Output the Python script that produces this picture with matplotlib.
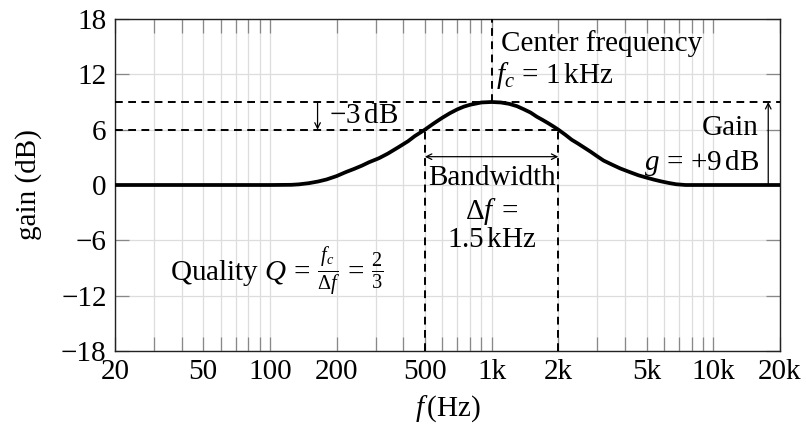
import matplotlib
matplotlib.use("Agg")
import matplotlib.pyplot as plt
from matplotlib.ticker import FixedLocator, NullFormatter

plt.rcParams["font.family"] = ["Liberation Serif", "DejaVu Serif"]
plt.rcParams["mathtext.fontset"] = "custom"
plt.rcParams["mathtext.rm"] = "Liberation Serif"
plt.rcParams["mathtext.it"] = "Liberation Serif:italic"
plt.rcParams["mathtext.bf"] = "Liberation Serif:bold"

# Peaking EQ response: frequency (Hz) and gain (dB)
freq_hz = [20, 100, 125, 135, 150, 165, 180, 200, 220, 240, 260, 280, 310, 340,
           380, 420, 450, 500, 550, 600, 650, 700, 750, 800, 900, 1000, 1100,
           1200, 1300, 1400, 1500, 1600, 1700, 1800, 1900, 2000, 2150, 2300,
           2450, 2600, 2800, 3000, 3200, 3500, 3800, 4200, 4600, 5000, 5400,
           5800, 6300, 6800, 7500, 20000]
gain_db = [0, 0, 0.02, 0.07, 0.2, 0.38, 0.6, 0.97, 1.4, 1.75, 2.1, 2.47, 2.9, 3.4,
           4.1, 4.75, 5.3, 6.0, 6.7, 7.3, 7.8, 8.2, 8.5, 8.7, 8.95, 9.0, 8.95,
           8.8, 8.55, 8.2, 7.85, 7.4, 7.05, 6.7, 6.35, 6.0, 5.45, 4.9,
           4.5, 4.1, 3.6, 3.1, 2.65, 2.2, 1.8, 1.4, 1.05, 0.8, 0.58,
           0.4, 0.22, 0.08, 0, 0]

# Key parameters of the filter
center_hz = 1000
band_lo_hz = 500
band_hi_hz = 2000
peak_db = 9
half_db = 6

# Axis ticks
x_label_ticks = [20, 50, 100, 200, 500, 1000, 2000, 5000, 10000, 20000]
x_tick_labels = ["20", "50", "100", "200", "500", "1k", "2k", "5k", "10k", "20k"]
y_ticks = [-18, -12, -6, 0, 6, 12, 18]

FS = 21

fig = plt.figure(figsize=(8.06, 4.29), dpi=100)
ax = fig.add_axes([115 / 806, 1 - 351 / 429, 665 / 806, 332 / 429])

ax.set_xscale("log")
ax.set_xlim(20, 20000)
ax.set_ylim(-18, 18)

# log grid positions
minor_pos = [m * 10 ** e for e in range(1, 5) for m in range(1, 10)
             if 20 <= m * 10 ** e <= 20000 and m * 10 ** e not in x_label_ticks]
ax.xaxis.set_major_locator(FixedLocator(x_label_ticks))
ax.xaxis.set_minor_locator(FixedLocator(minor_pos))
ax.set_xticklabels(x_tick_labels)
ax.xaxis.set_minor_formatter(NullFormatter())
ax.set_yticks(y_ticks)
ax.set_yticklabels([("\u2212" + str(-v)) if v < 0 else str(v) for v in y_ticks])

grid_kw = dict(color="#dddddd", linewidth=0.9)
ax.grid(True, which="both", axis="x", **grid_kw)
ax.grid(True, which="major", axis="y", **grid_kw)
ax.set_axisbelow(True)

for which in ("major", "minor"):
    ax.tick_params(axis="both", which=which, direction="in", length=10,
                   width=0.9, color="#888888", top=True, right=True,
                   labelsize=FS)
ax.tick_params(axis="x", which="major", pad=6)
ax.tick_params(axis="y", which="major", pad=6)
for s in ax.spines.values():
    s.set_linewidth(1.0)
    s.set_color("#222222")

dash = (0, (4.0, 2.8))
dkw = dict(color="black", linewidth=1.4, linestyle=dash, zorder=3)
ax.plot([20, 20000], [peak_db, peak_db], **dkw)
ax.plot([20, band_hi_hz], [half_db, half_db], **dkw)
ax.plot([center_hz, center_hz], [peak_db, 18], **dkw)
ax.plot([band_lo_hz, band_lo_hz], [-18, half_db], **dkw)
ax.plot([band_hi_hz, band_hi_hz], [-18, half_db], **dkw)

ax.plot(freq_hz, gain_db, color="black", linewidth=2.7, zorder=4,
        solid_capstyle="butt", solid_joinstyle="round")

akw = dict(arrowstyle="->", color="black", linewidth=0.9,
           shrinkA=0, shrinkB=0, mutation_scale=10)
# -3 dB arrow
ax.annotate("", xy=(164, half_db), xytext=(164, peak_db), arrowprops=akw)
ax.text(184, 7.5, r"$-3\,\mathrm{dB}$", fontsize=FS, va="center", ha="left")

# Gain arrow
ax.annotate("", xy=(17700, peak_db), xytext=(17700, 0), arrowprops=akw)
ax.text(16100, 6.2, "Gain", fontsize=FS, va="center", ha="right")
ax.text(16100, 2.4, r"$g\,=\,{+}9\,\mathrm{dB}$", fontsize=FS, va="center", ha="right")

# Bandwidth arrow
akw2 = dict(akw, arrowstyle="<->")
ax.annotate("", xy=(band_lo_hz, 3.07), xytext=(band_hi_hz, 3.07), arrowprops=akw2)
ax.text(center_hz, 0.8, "Bandwidth", fontsize=FS, va="center", ha="center")
ax.text(center_hz, -2.9, r"$\Delta f\;=$", fontsize=FS, va="center", ha="center")
ax.text(center_hz, -6.0, r"$1.5\,\mathrm{kHz}$", fontsize=FS, va="center", ha="center")

# Center frequency
ax.text(1107, 15.3, "Center frequency", fontsize=FS, va="center", ha="left")
ax.text(1051, 11.9, r"$f_c\,=\,1\,\mathrm{kHz}$", fontsize=FS, va="center", ha="left")

# Quality
ax.text(35.4, -9.4, r"Quality $Q\,=\,\frac{f_c}{\Delta f}\,=\,\frac{2}{3}$",
        fontsize=FS, va="center", ha="left")

ax.set_xlabel(r"$f\,$(Hz)", fontsize=FS, labelpad=6)
ax.set_ylabel("gain (dB)", fontsize=FS, labelpad=14)

fig.savefig("out.png", dpi=100)
